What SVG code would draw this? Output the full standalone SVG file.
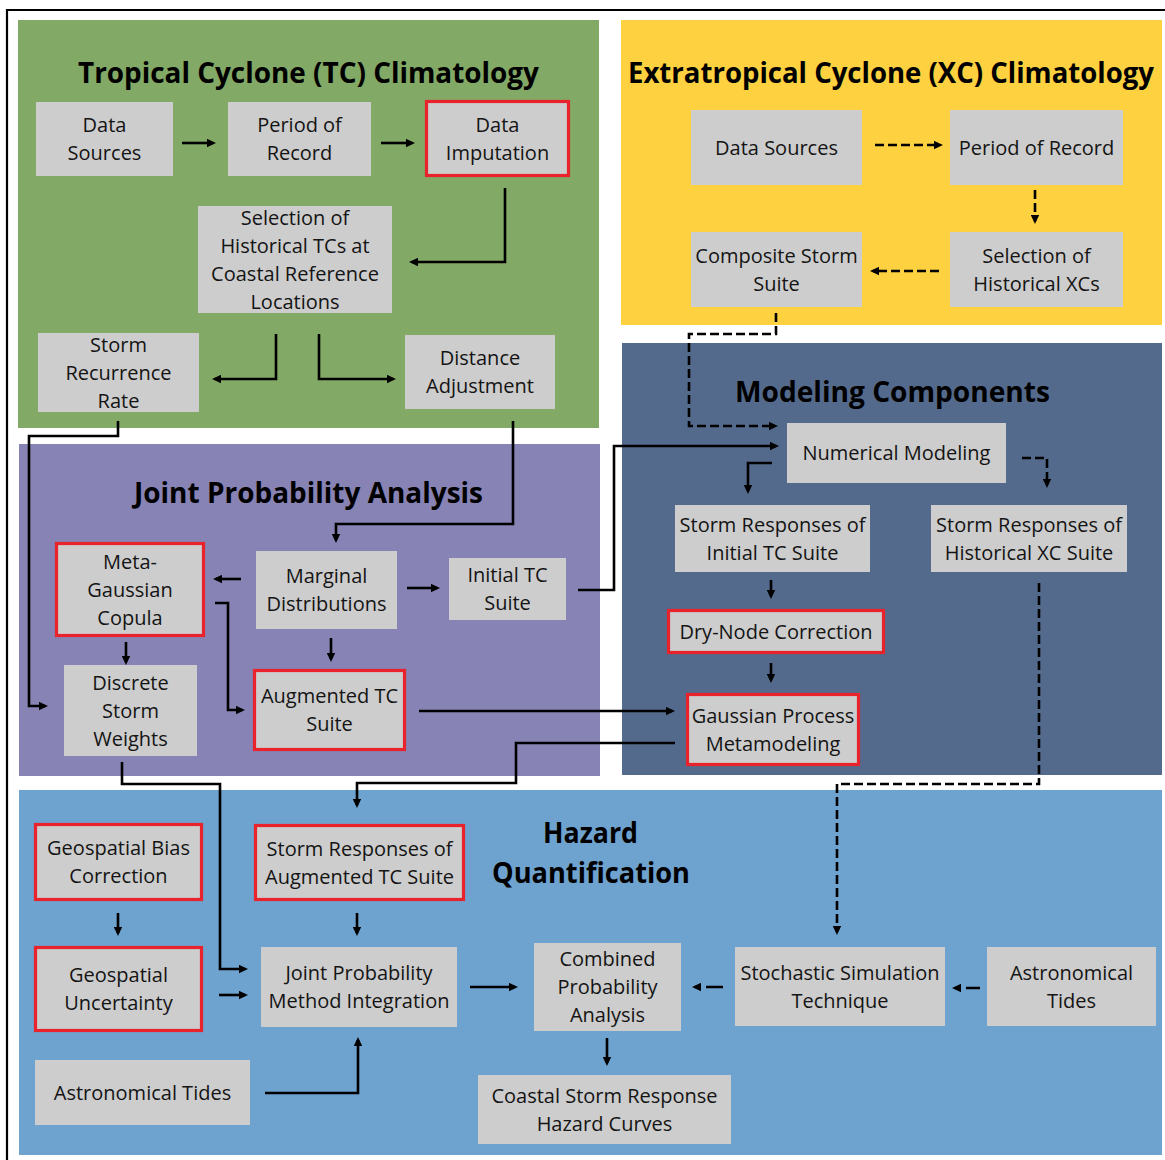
<svg xmlns="http://www.w3.org/2000/svg" width="1165" height="1160" viewBox="0 0 1165 1160">
<style>
.panel{stroke:none}
.box{fill:#cdcdcd}
.red{fill:#cdcdcd;stroke:#e8232b;stroke-width:3.2}
.t{font-family:"Open Sans","Noto Sans","DejaVu Sans",sans-serif;font-size:20px;fill:#141414;text-anchor:middle}
.h{font-family:"Open Sans","Noto Sans","DejaVu Sans",sans-serif;font-size:29px;font-weight:bold;fill:#000}
.c{fill:none;stroke:#000;stroke-width:2.6;marker-end:url(#ah)}
.d{fill:none;stroke:#000;stroke-width:2.6;stroke-dasharray:9 4;marker-end:url(#ah)}
</style>
<defs>
<marker id="ah" markerUnits="userSpaceOnUse" viewBox="0 0 9 9" markerWidth="9" markerHeight="9" refX="6" refY="4.5" orient="auto">
<path d="M0,0.3 L9,4.5 L0,8.7 z" fill="#000"/>
</marker>
</defs>
<rect width="1165" height="1160" fill="#fff"/>
<path d="M7,1160 V10 H1165" fill="none" stroke="#000" stroke-width="2.2"/>

<g id="panels">
<rect class="panel" x="18" y="20" width="581" height="408" fill="#82a965"/>
<rect class="panel" x="621" y="20" width="541" height="305" fill="#fdd13f"/>
<rect class="panel" x="19" y="444" width="581" height="332" fill="#8783b5"/>
<rect class="panel" x="622" y="343" width="540" height="432" fill="#546a8c"/>
<rect class="panel" x="19" y="790" width="1143" height="365" fill="#6ea2cf"/>
</g>

<g id="titles">
<text class="h" x="78" y="83" textLength="461" lengthAdjust="spacingAndGlyphs">Tropical Cyclone (TC) Climatology</text>
<text class="h" x="628" y="83" textLength="526" lengthAdjust="spacingAndGlyphs">Extratropical Cyclone (XC) Climatology</text>
<text class="h" x="134" y="503" textLength="349" lengthAdjust="spacingAndGlyphs">Joint Probability Analysis</text>
<text class="h" x="735" y="402" textLength="315" lengthAdjust="spacingAndGlyphs">Modeling Components</text>
<text class="h" x="543" y="843" textLength="95" lengthAdjust="spacingAndGlyphs">Hazard</text>
<text class="h" x="492" y="883" textLength="198" lengthAdjust="spacingAndGlyphs">Quantification</text>
</g>

<g id="connectors">
<path class="c" d="M182,143 H213"/>
<path class="c" d="M381,143 H412"/>
<path class="c" d="M505,188 V262 H412"/>
<path class="c" d="M276,334 V379 H215"/>
<path class="c" d="M319,334 V379 H393"/>
<path class="c" d="M118,421 V436 H29 V706 H45"/>
<path class="c" d="M513,421 V524 H336 V540"/>
<path class="c" d="M241,579 H216"/>
<path class="c" d="M407,588 H437"/>
<path class="c" d="M331,638 V659"/>
<path class="c" d="M126,642 V662"/>
<path class="c" d="M215,603 H228 V710 H242"/>
<path class="c" d="M578,590 H614 V446 H776"/>
<path class="c" d="M419,711 H672"/>
<path class="c" d="M675,743 H516 V783 H357 V805"/>
<path class="c" d="M122,762 V784 H220 V969 H245"/>
<path class="c" d="M118,913 V933"/>
<path class="c" d="M219,995 H245"/>
<path class="c" d="M357,913 V933"/>
<path class="c" d="M265,1093 H358 V1040"/>
<path class="c" d="M470,987 H515"/>
<path class="c" d="M607,1038 V1063"/>
<path class="c" d="M772,463 H748 V491"/>
<path class="c" d="M771,580 V596"/>
<path class="c" d="M771,663 V680"/>
<path class="d" d="M875,145 H940"/>
<path class="d" d="M1035,190 V221"/>
<path class="d" d="M939,271 H873"/>
<path class="d" d="M776,313 V334 H689 V426 H775"/>
<path class="d" d="M1022,458 H1047 V485"/>
<path class="d" d="M1039,583 V784 H837 V932"/>
<path class="d" style="stroke-dasharray:17 6" d="M723,987 H695"/>
<path class="d" style="stroke-dasharray:14 6" d="M980,988 H955"/>
</g>

<g id="tc_ds"><rect class="box" x="36" y="102" width="137" height="74"/><text class="t" x="104.5" y="132">Data</text><text class="t" x="104.5" y="160">Sources</text></g>
<g id="tc_por"><rect class="box" x="228" y="102" width="143" height="74"/><text class="t" x="299.5" y="132">Period of</text><text class="t" x="299.5" y="160">Record</text></g>
<g id="tc_di"><rect class="red" x="426.5" y="101.5" width="142" height="74"/><text class="t" x="497.5" y="131.5">Data</text><text class="t" x="497.5" y="159.5">Imputation</text></g>
<g id="tc_sel"><rect class="box" x="198" y="206" width="194" height="107"/><text class="t" x="295" y="224.5">Selection of</text><text class="t" x="295" y="252.5">Historical TCs at</text><text class="t" x="295" y="280.5">Coastal Reference</text><text class="t" x="295" y="308.5">Locations</text></g>
<g id="tc_srr"><rect class="box" x="38" y="333" width="161" height="79"/><text class="t" x="118.5" y="351.5">Storm</text><text class="t" x="118.5" y="379.5">Recurrence</text><text class="t" x="118.5" y="407.5">Rate</text></g>
<g id="tc_da"><rect class="box" x="405" y="335" width="150" height="74"/><text class="t" x="480" y="365">Distance</text><text class="t" x="480" y="393">Adjustment</text></g>

<g id="xc_ds"><rect class="box" x="691" y="110" width="171" height="75"/><text class="t" x="776.5" y="154.5">Data Sources</text></g>
<g id="xc_por"><rect class="box" x="950" y="110" width="173" height="75"/><text class="t" x="1036.5" y="154.5">Period of Record</text></g>
<g id="xc_css"><rect class="box" x="691" y="232" width="171" height="75"/><text class="t" x="776.5" y="262.5">Composite Storm</text><text class="t" x="776.5" y="290.5">Suite</text></g>
<g id="xc_sel"><rect class="box" x="950" y="232" width="173" height="75"/><text class="t" x="1036.5" y="262.5">Selection of</text><text class="t" x="1036.5" y="290.5">Historical XCs</text></g>

<g id="jpa_mgc"><rect class="red" x="56.5" y="543.5" width="147" height="92"/><text class="t" x="130" y="568.5">Meta-</text><text class="t" x="130" y="596.5">Gaussian</text><text class="t" x="130" y="624.5">Copula</text></g>
<g id="jpa_md"><rect class="box" x="256" y="551" width="141" height="78"/><text class="t" x="326.5" y="583">Marginal</text><text class="t" x="326.5" y="611">Distributions</text></g>
<g id="jpa_itc"><rect class="box" x="449" y="558" width="117" height="62"/><text class="t" x="507.5" y="582">Initial TC</text><text class="t" x="507.5" y="610">Suite</text></g>
<g id="jpa_dsw"><rect class="box" x="64" y="665" width="133" height="91"/><text class="t" x="130.5" y="689.5">Discrete</text><text class="t" x="130.5" y="717.5">Storm</text><text class="t" x="130.5" y="745.5">Weights</text></g>
<g id="jpa_atc"><rect class="red" x="254.5" y="670.5" width="150" height="79"/><text class="t" x="329.5" y="703">Augmented TC</text><text class="t" x="329.5" y="731">Suite</text></g>

<g id="mc_nm"><rect class="box" x="787" y="423" width="219" height="60"/><text class="t" x="896.5" y="460">Numerical Modeling</text></g>
<g id="mc_sri"><rect class="box" x="675" y="505" width="195" height="67"/><text class="t" x="772.5" y="531.5">Storm Responses of</text><text class="t" x="772.5" y="559.5">Initial TC Suite</text></g>
<g id="mc_srh"><rect class="box" x="931" y="505" width="196" height="67"/><text class="t" x="1029" y="531.5">Storm Responses of</text><text class="t" x="1029" y="559.5">Historical XC Suite</text></g>
<g id="mc_dnc"><rect class="red" x="668.5" y="610.5" width="215" height="42"/><text class="t" x="776" y="638.5">Dry-Node Correction</text></g>
<g id="mc_gp"><rect class="red" x="687.5" y="694.5" width="171" height="70"/><text class="t" x="773" y="722.5">Gaussian Process</text><text class="t" x="773" y="750.5">Metamodeling</text></g>

<g id="hq_gbc"><rect class="red" x="35.5" y="824.5" width="166" height="75"/><text class="t" x="118.5" y="855">Geospatial Bias</text><text class="t" x="118.5" y="883">Correction</text></g>
<g id="hq_gu"><rect class="red" x="35.5" y="947.5" width="166" height="83"/><text class="t" x="118.5" y="982">Geospatial</text><text class="t" x="118.5" y="1010">Uncertainty</text></g>
<g id="hq_sra"><rect class="red" x="255.5" y="825.5" width="208" height="74"/><text class="t" x="359.5" y="855.5">Storm Responses of</text><text class="t" x="359.5" y="883.5">Augmented TC Suite</text></g>
<g id="hq_jpmi"><rect class="box" x="261" y="947" width="196" height="80"/><text class="t" x="359" y="980">Joint Probability</text><text class="t" x="359" y="1008">Method Integration</text></g>
<g id="hq_at1"><rect class="box" x="35" y="1060" width="215" height="65"/><text class="t" x="142.5" y="1099.5">Astronomical Tides</text></g>
<g id="hq_cpa"><rect class="box" x="534" y="943" width="147" height="88"/><text class="t" x="607.5" y="966">Combined</text><text class="t" x="607.5" y="994">Probability</text><text class="t" x="607.5" y="1022">Analysis</text></g>
<g id="hq_sst"><rect class="box" x="735" y="947" width="210" height="79"/><text class="t" x="840" y="979.5">Stochastic Simulation</text><text class="t" x="840" y="1007.5">Technique</text></g>
<g id="hq_at2"><rect class="box" x="987" y="947" width="169" height="79"/><text class="t" x="1071.5" y="979.5">Astronomical</text><text class="t" x="1071.5" y="1007.5">Tides</text></g>
<g id="hq_cs"><rect class="box" x="478" y="1075" width="253" height="69"/><text class="t" x="604.5" y="1102.5">Coastal Storm Response</text><text class="t" x="604.5" y="1130.5">Hazard Curves</text></g>
</svg>
